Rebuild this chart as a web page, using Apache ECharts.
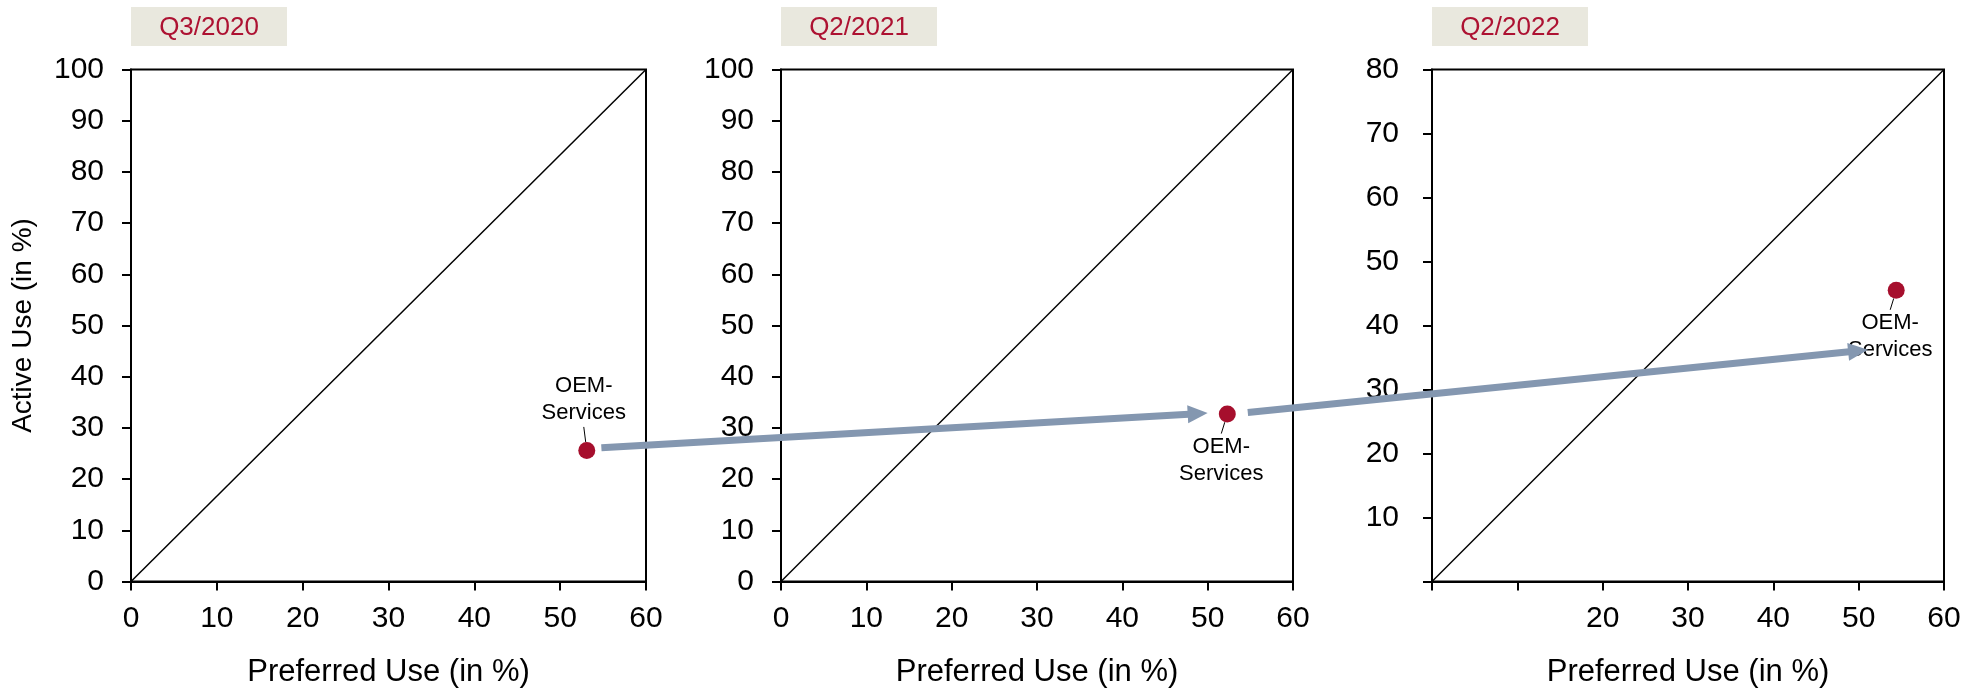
<!DOCTYPE html>
<html>
<head>
<meta charset="utf-8">
<script src="https://cdn.jsdelivr.net/npm/echarts@6/dist/echarts.min.js"></script>
<style>
  html, body { margin: 0; padding: 0; background: #fff; }
  #main { width: 1978px; height: 694px; }
</style>
</head>
<body>
<div id="main"></div>
<script>
// Period shown in each panel
const periods = ['Q3/2020', 'Q2/2021', 'Q2/2022'];
// OEM-Services position per period (in %)
const preferredUse = [53.1, 52.3, 54.4];
const activeUse = [25.6, 32.7, 45.5];
const pointName = 'OEM-\nServices';
// Axis ranges per panel
const xMax = [60, 60, 60];
const yMax = [100, 100, 80];
// Tick labels per panel (blank entries are left unlabelled)
const xTickLabels = [
  ['0', '10', '20', '30', '40', '50', '60'],
  ['0', '10', '20', '30', '40', '50', '60'],
  ['', '', '20', '30', '40', '50', '60']
];
const yTickLabels = [
  ['0', '10', '20', '30', '40', '50', '60', '70', '80', '90', '100'],
  ['0', '10', '20', '30', '40', '50', '60', '70', '80', '90', '100'],
  ['', '10', '20', '30', '40', '50', '60', '70', '80']
];
// Development arrows between periods, in each panel's data units
const arrowFromPanel = [0, 1];
const arrowFrom = [[54.8, 26.1], [54.7, 33.0]];
const arrowToPanel = [1, 2];
const arrowTo = [[50.0, 32.9], [51.1, 36.2]];

const FONT = 'Liberation Sans, Arial, sans-serif';
const gridBoxes = [
  { left: 131, top: 69.5, width: 515, height: 512 },
  { left: 781, top: 69.5, width: 512, height: 512 },
  { left: 1432, top: 69.5, width: 512, height: 512 }
];
const yLabelMargin = [27, 27, 33];

const chart = echarts.init(document.getElementById('main'));

const grid = [], xAxis = [], yAxis = [], series = [], graphic = [];

periods.forEach((p, i) => {
  grid.push(Object.assign({ show: true, borderColor: '#000', borderWidth: 2, backgroundColor: 'transparent' }, gridBoxes[i]));

  xAxis.push({
    type: 'value', gridIndex: i, min: 0, max: xMax[i], interval: 10,
    axisLine: { show: true, onZero: false, lineStyle: { color: '#000', width: 2 } },
    axisTick: { show: true, length: 9, lineStyle: { color: '#000', width: 2 } },
    axisLabel: {
      color: '#000', fontSize: 30, fontFamily: FONT, margin: 22,
      formatter: v => xTickLabels[i][Math.round(v / 10)] || ''
    },
    splitLine: { show: false },
    name: 'Preferred Use (in %)', nameLocation: 'middle', nameGap: 75,
    nameTextStyle: { color: '#000', fontSize: 31, fontFamily: FONT }
  });

  yAxis.push({
    type: 'value', gridIndex: i, min: 0, max: yMax[i], interval: 10,
    axisLine: { show: true, onZero: false, lineStyle: { color: '#000', width: 2 } },
    axisTick: { show: true, length: 9, lineStyle: { color: '#000', width: 2 } },
    axisLabel: {
      color: '#000', fontSize: 30, fontFamily: FONT, margin: yLabelMargin[i],
      formatter: v => yTickLabels[i][Math.round(v / 10)] || ''
    },
    splitLine: { show: false },
    name: i === 0 ? 'Active Use (in %)' : '', nameLocation: 'middle', nameGap: 94,
    nameTextStyle: { color: '#000', fontSize: 28, fontFamily: FONT }
  });

  // Diagonal reference line from origin to the upper right corner
  series.push({
    type: 'line', xAxisIndex: i, yAxisIndex: i, silent: true, symbol: 'none',
    data: [[0, 0], [xMax[i], yMax[i]]],
    lineStyle: { color: '#000', width: 1.5 }, z: 2
  });

  const above = i === 0;
  series.push({
    type: 'scatter', xAxisIndex: i, yAxisIndex: i,
    data: [[preferredUse[i], activeUse[i]]],
    symbolSize: 17,
    itemStyle: { color: '#A60F2D', opacity: 1 },
    label: {
      show: true, formatter: pointName, position: above ? 'top' : 'bottom',
      distance: above ? 15 : 11, offset: [above ? -3 : -6, 0],
      color: '#000', opacity: 1, fontSize: 22, lineHeight: 27, fontFamily: FONT, align: 'center'
    },
    labelLine: { show: true, lineStyle: { color: '#000', width: 1, opacity: 1 } },
    z: 5
  });

  // Period caption box
  graphic.push({
    type: 'group', left: gridBoxes[i].left, top: 7,
    children: [
      { type: 'rect', shape: { x: 0, y: 0, width: 156, height: 39 }, style: { fill: '#E9E8DE' } },
      { type: 'text', x: 78, y: 20.5, style: { text: p, fill: '#AD1232', font: '26px ' + FONT, align: 'center', verticalAlign: 'middle' } }
    ]
  });
});

chart.setOption({ animation: false, backgroundColor: '#fff', grid, xAxis, yAxis, series, graphic });

// Arrows linking the periods, placed through each panel's own axes
const arrowGraphics = [];
arrowFrom.forEach((from, k) => {
  const p0 = chart.convertToPixel({ gridIndex: arrowFromPanel[k] }, from);
  const p1 = chart.convertToPixel({ gridIndex: arrowToPanel[k] }, arrowTo[k]);
  const dx = p1[0] - p0[0], dy = p1[1] - p0[1];
  const len = Math.hypot(dx, dy);
  const ux = dx / len, uy = dy / len;
  const headLen = 20, headHalf = 9;
  const bx = p1[0] - ux * headLen, by = p1[1] - uy * headLen;
  arrowGraphics.push({
    type: 'line', z: 100,
    shape: { x1: p0[0], y1: p0[1], x2: bx + ux, y2: by + uy },
    style: { stroke: '#8497B0', lineWidth: 7 }
  });
  arrowGraphics.push({
    type: 'polygon', z: 100,
    shape: { points: [[p1[0], p1[1]], [bx - uy * headHalf, by + ux * headHalf], [bx + uy * headHalf, by - ux * headHalf]] },
    style: { fill: '#8497B0' }
  });
});
chart.setOption({ graphic: graphic.concat(arrowGraphics) });
</script>
</body>
</html>
